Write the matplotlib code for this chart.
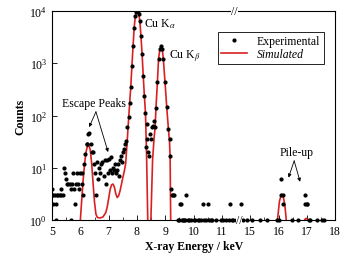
import numpy as np
import matplotlib
matplotlib.use("Agg")
import matplotlib.pyplot as plt

plt.rcParams['font.family'] = ['Liberation Serif', 'DejaVu Serif']
plt.rcParams['mathtext.fontset'] = 'stix'

# experimental counts (keV, counts)
exp_E = [5.00, 5.00, 5.03, 5.05, 5.10, 5.13, 5.15, 5.18, 5.22, 5.27, 5.30, 5.33, 5.38,
         5.42, 5.46, 5.50, 5.53, 5.58, 5.62, 5.66, 5.68, 5.72, 5.75, 5.78, 5.81, 5.85,
         5.88, 5.92, 5.96, 6.00, 6.05, 6.06, 6.08, 6.12, 6.18, 6.22, 6.25, 6.28, 6.31,
         6.36, 6.40, 6.44, 6.48, 6.52, 6.55, 6.58, 6.62, 6.66, 6.70, 6.74, 6.78, 6.82,
         6.86, 6.90, 6.93, 6.96, 7.00, 7.04, 7.08, 7.12, 7.15, 7.19, 7.22, 7.26, 7.30,
         7.33, 7.37, 7.40, 7.44, 7.47, 7.50, 7.54, 7.58, 7.62,
         7.66, 7.70, 7.74, 7.78, 7.82, 7.86, 7.90, 7.94, 7.98, 8.02, 8.06, 8.10, 8.14,
         8.18, 8.22, 8.26, 8.30, 8.33, 8.35, 8.37, 8.39, 8.44, 8.46, 8.50, 8.52, 8.56,
         8.60, 8.64, 8.67, 8.72, 8.76, 8.81, 8.85, 8.89, 8.93, 8.99, 9.05, 9.11, 9.15,
         9.17, 9.20, 9.23, 9.27, 9.30, 9.52, 9.55, 9.73, 10.32, 10.52, 11.29, 14.67,
         16.08, 16.08, 16.15, 16.17, 16.94, 16.94, 16.99, 17.02]
exp_c = [3, 4, 2, 3, 3, 1, 2, 3, 3, 3, 4, 3, 3,
         10, 8, 6, 5, 5, 5, 4, 1, 5, 8, 4, 2, 5,
         8, 5, 4, 8, 5, 8, 3, 12, 18, 28, 28, 44, 46,
         28, 20, 20, 12, 8, 3, 13, 6, 10, 8, 12, 13, 7,
         14, 5, 14, 8, 15, 9, 16, 8, 10, 9, 12, 8, 9,
         12, 7, 14, 17, 13, 20, 23, 28, 33,
         60, 92, 170, 350, 880, 2100, 4700, 8000, 9600, 9900, 8800, 6500, 3300,
         1500, 580, 240, 110, 25, 68, 35, 20, 17, 44, 35, 60, 63,
         80, 60, 140, 430, 1200, 1900, 2150, 1900, 1200, 430, 145, 55, 35,
         17, 4, 3, 3, 3, 2, 2, 3, 2, 2, 2, 2,
         6, 3, 3, 2, 3, 2, 2, 2]

# single-count events sitting on the axis
ones_E = [9.45, 9.50, 9.58, 9.62, 9.66, 9.70, 9.80, 9.85, 9.90, 10.00, 10.05, 10.15,
          10.20, 10.25, 10.35, 10.45, 10.55, 10.60, 10.65, 10.80, 10.95, 11.05, 11.15,
          11.25, 11.35, 11.40, 11.50, 14.75, 14.90, 15.05, 15.35, 15.60, 15.94, 16.00,
          16.47, 16.70, 17.06, 17.10, 17.35, 17.53, 17.60]

# simulated spectrum
sim_E = [5.00, 5.90, 6.00, 6.05, 6.10, 6.15, 6.20, 6.25, 6.30, 6.35, 6.40, 6.45, 6.50,
         6.55, 6.60, 6.70, 6.80, 6.90, 6.95, 7.00, 7.05, 7.10, 7.15, 7.20, 7.25, 7.30,
         7.35, 7.40, 7.45, 7.50, 7.55, 7.60, 7.65, 7.70, 7.74, 7.78, 7.82, 7.86, 7.90,
         7.94, 7.98, 8.02, 8.06, 8.10, 8.14, 8.18, 8.22, 8.26, 8.30, 8.34, 8.38, 8.43,
         8.49, 8.55, 8.60, 8.64, 8.67, 8.72, 8.76, 8.81, 8.85, 8.89, 8.93, 8.99, 9.05,
         9.11, 9.15, 9.17, 9.19, 9.22, 15.80, 15.93, 15.96, 16.03, 16.10, 16.15, 16.22,
         16.27, 16.32, 16.80, 16.88, 16.92, 16.97, 17.02, 17.06, 17.20, 18.00]
sim_c = [0.01, 0.05, 1.0, 2.5, 6, 12, 20, 26, 27, 22, 12, 5, 2.2,
         1.3, 1.12, 1.1, 1.15, 1.4, 1.8, 2.6, 3.8, 4.7, 4.9, 4.3, 3.2, 2.7,
         2.9, 3.6, 4.8, 6.5, 8.5, 12, 30, 80, 170, 350, 880, 2100, 4700,
         8000, 9600, 9900, 8800, 6500, 3300, 1500, 580, 240, 110, 15, 1, 0.2,
         1, 14, 35, 60, 140, 430, 1200, 1900, 2150, 1900, 1200, 430, 145,
         55, 30, 15, 1, 0.1, 0.01, 0.5, 1, 2.3, 3.1, 3.0, 2,
         1, 0.3, 0.05, 0.8, 1.02, 1.08, 1.02, 0.8, 0.05, 0.01]

tick_vals = [5, 6, 7, 8, 9, 10, 11, 15, 16, 17, 18]


def brk(e):
    # broken axis: 11.6-14.6 keV is cut out
    e = np.asarray(e, dtype=float)
    return np.where(e > 13, e - 3, e)


fig = plt.figure(figsize=(3.54, 2.55), dpi=100)
ax = fig.add_axes([0.147, 0.133, 0.8, 0.82])

ax.plot(brk(sim_E), sim_c, color='#d92020', lw=1.2, label='Simulated', zorder=2)
ax.plot(brk(exp_E), exp_c, 'o', color='k', ms=2.0, label='Experimental', zorder=3)
ax.plot(brk(ones_E), np.ones(len(ones_E)), 'o', color='k', ms=2.0, clip_on=False, zorder=3)

ax.set_yscale('log')
ax.set_ylim(1, 1e4)
ax.set_xlim(5, 15)
ax.set_xticks(brk(tick_vals))
ax.set_xticklabels([str(t) for t in tick_vals])
ax.set_xticks(np.arange(5.5, 15, 1.0), minor=True)
ax.tick_params(axis='both', which='both', direction='in', labelsize=8.5)
ax.tick_params(which='major', length=3.5, width=0.6)
ax.tick_params(which='minor', length=2, width=0.5)
ax.tick_params(axis='y', which='minor', left=False)
for s in ax.spines.values():
    s.set_linewidth(0.8)

# break marks
for xb, yb in ((11.45, 1), (11.6, 0)):
    ax.text(xb, yb, '//', transform=ax.get_xaxis_transform(), ha='center', va='center',
            fontsize=8.5, clip_on=False, zorder=5,
            bbox=dict(boxstyle='square,pad=0.0', fc='white', ec='none'))

ax.set_xlabel('X-ray Energy / keV', fontsize=8.5, fontweight='bold', labelpad=2)
ax.set_ylabel('Counts', fontsize=8.5, fontweight='bold', labelpad=2)

ax.text(8.25, 5900, r'Cu K$_\alpha$', fontsize=8.5, va='center')
ax.text(9.13, 1370, r'Cu K$_\beta$', fontsize=8.5, va='center')
ax.text(6.47, 175, 'Escape Peaks', fontsize=8.5, ha='center', va='center')
ax.text(13.64, 20, 'Pile-up', fontsize=8.5, ha='center', va='center')

arr = dict(arrowstyle='-|>', lw=0.6, color='k', mutation_scale=5, shrinkA=0, shrinkB=0)
ax.annotate('', xy=(6.31, 60), xytext=(6.55, 118), arrowprops=arr)
ax.annotate('', xy=(6.98, 20), xytext=(6.55, 118), arrowprops=arr)
ax.annotate('', xy=(13.35, 6.5), xytext=(13.55, 13.6), arrowprops=arr)
ax.annotate('', xy=(13.76, 5.4), xytext=(13.55, 13.6), arrowprops=arr)

h, l = ax.get_legend_handles_labels()
leg = ax.legend(h[::-1], l[::-1], loc='upper right', bbox_to_anchor=(0.98, 0.93),
                fontsize=8.5, fancybox=False, edgecolor='k', framealpha=1,
                handlelength=2.2, borderpad=0.3, labelspacing=0.1, markerscale=1.0)
leg.get_frame().set_linewidth(0.6)
leg.get_texts()[1].set_style('italic')

fig.savefig('out.png', dpi=100)
